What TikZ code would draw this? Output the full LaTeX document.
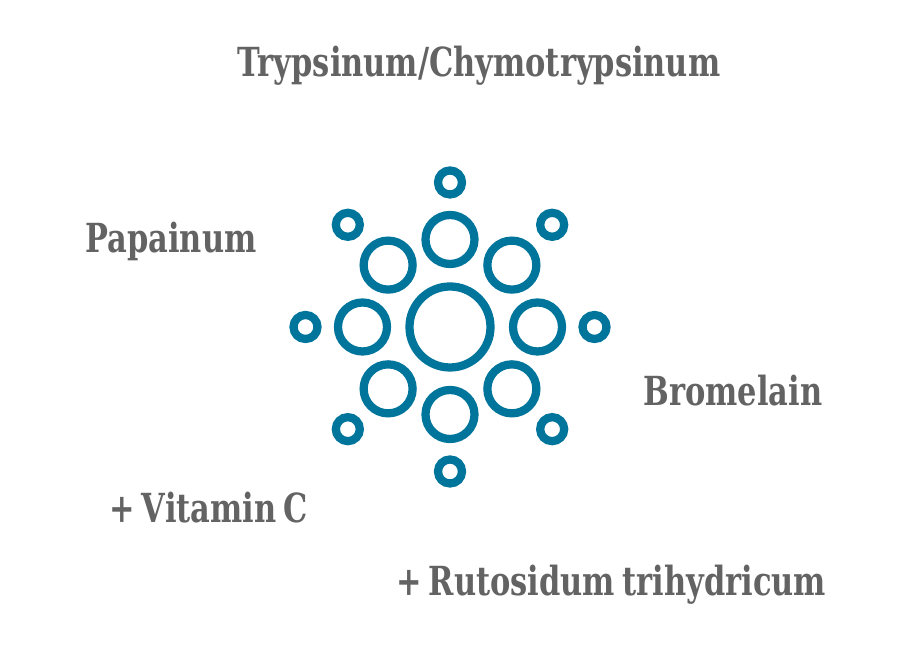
\documentclass[tikz,border=0pt]{standalone}
\usepackage{fontspec}
\setmainfont[FakeStretch=0.845,WordSpace=0.7]{DejaVu Serif Condensed}
\usetikzlibrary{calc}
\definecolor{ringblue}{HTML}{00759C}
\definecolor{txtgray}{HTML}{636363}
\tikzset{
  drug/.style={text=txtgray, font=\fontsize{22.8}{26}\selectfont\bfseries, inner sep=0pt, anchor=base},
  ring/.style={draw=ringblue, line width=0.165cm},
}
\begin{document}
\begin{tikzpicture}

% Background
\useasboundingbox (0,0) rectangle (18.12,13.32);

% Labels
\node[drug] (tryp) at (9.58,11.78) {Trypsinum/Chymotrypsinum};
\node[drug] (papa) at (3.42,8.26) {Papainum};
\node[drug] (brom) at (14.66,5.2) {Bromelain};
\node[drug] (vitc) at (4.17,2.86) {+ Vitamin C};
\node[drug] (ruto) at (12.22,1.4) {+ Rutosidum trihydricum};

% Center
\coordinate (hub) at (9.0,6.78);
\draw[ring] (hub) circle (0.81);

% Middle and outer rings
\foreach \a in {0,45,...,315} {
  \draw[ring] ($(hub)+(\a:1.75)$) circle (0.49);
  \draw[ring] ($(hub)+(\a:2.89)$) circle (0.24);
}

\end{tikzpicture}
\end{document}
